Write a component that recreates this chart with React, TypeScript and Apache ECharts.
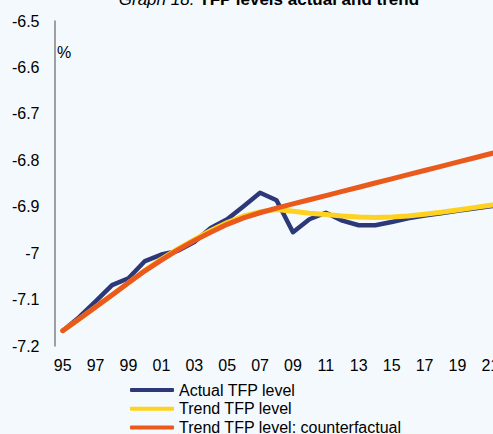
import React, { useEffect, useRef } from "react";
import * as echarts from "echarts";

const years = [
  "1995", "1996", "1997", "1998", "1999", "2000", "2001", "2002", "2003", "2004",
  "2005", "2006", "2007", "2008", "2009", "2010", "2011", "2012", "2013", "2014",
  "2015", "2016", "2017", "2018", "2019", "2020", "2021", "2022",
];

const actualTfp = [
  -7.167, -7.138, -7.104, -7.069, -7.054, -7.017, -7.003, -6.995, -6.976, -6.946,
  -6.927, -6.899, -6.87, -6.886, -6.955, -6.927, -6.913, -6.93, -6.94, -6.94,
  -6.933, -6.925, -6.919, -6.914, -6.909, -6.904, -6.899, -6.894,
];

const trendTfp = [
  -7.167, -7.142, -7.116, -7.09, -7.064, -7.037, -7.013, -6.991, -6.971, -6.951,
  -6.934, -6.92, -6.911, -6.906, -6.91, -6.914, -6.917, -6.92, -6.922, -6.923,
  -6.922, -6.92, -6.916, -6.912, -6.907, -6.902, -6.897, -6.892,
];

const counterfactualTfp = [
  -7.167, -7.142, -7.116, -7.09, -7.064, -7.038, -7.015, -6.993, -6.973, -6.955,
  -6.938, -6.924, -6.913, -6.903, -6.894, -6.885, -6.876, -6.867, -6.858, -6.849,
  -6.84, -6.831, -6.822, -6.813, -6.804, -6.795, -6.786, -6.777,
];

const seriesNames = ["Actual TFP level", "Trend TFP level", "Trend TFP level: counterfactual"];
const titleItalic = "Graph 18: ";
const titleBold = "TFP levels actual and trend";
const unitLabel = "%";

const FONT = "'Liberation Sans', Arial, sans-serif";
const BG = "#F4F9FD";

const legendRowTops = [382, 400.7, 419.4];

export default function App() {
  const ref = useRef<HTMLDivElement>(null);

  useEffect(() => {
    if (!ref.current) return;
    const chart = echarts.init(ref.current, undefined, { renderer: "svg" });
    chart.setOption({
      animation: false,
      backgroundColor: BG,
      textStyle: { fontFamily: FONT },
      grid: {
        left: 54.5,
        top: 21,
        bottom: 88,
        right: -22,
        containLabel: false,
        outerBoundsMode: "none",
      },
      graphic: [
        {
          type: "text",
          x: 269,
          y: 8,
          style: {
            text: `{i|${titleItalic}}{b|${titleBold}}`,
            align: "center",
            verticalAlign: "bottom",
            rich: {
              i: { fontFamily: FONT, fontSize: 17, fontStyle: "italic", fill: "#000" },
              b: { fontFamily: FONT, fontSize: 17, fontWeight: "bold", fill: "#000" },
            },
          },
        },
        {
          type: "text",
          x: 57,
          y: 52,
          style: {
            text: unitLabel,
            fontFamily: FONT,
            fontSize: 16,
            fill: "#000",
            verticalAlign: "middle",
          },
        },
      ],
      legend: seriesNames.map((name, i) => ({
        orient: "vertical",
        left: 130,
        top: legendRowTops[i],
        padding: 0,
        itemGap: 0,
        itemWidth: 44,
        itemHeight: 4,
        icon: "roundRect",
        data: [name],
        textStyle: { fontFamily: FONT, fontSize: 16, lineHeight: 16, color: "#000" },
      })),
      xAxis: {
        type: "category",
        data: years,
        boundaryGap: true,
        axisLine: { show: false },
        axisTick: { show: false },
        axisLabel: {
          interval: 1,
          margin: 11,
          fontFamily: FONT,
          fontSize: 16,
          color: "#000",
          formatter: (v: string) => v.slice(2),
        },
        splitLine: { show: false },
      },
      yAxis: {
        type: "value",
        min: -7.2,
        max: -6.5,
        interval: 0.1,
        axisLine: { show: true, lineStyle: { color: "#808080", width: 1.5 } },
        axisTick: { show: false },
        splitLine: { show: false },
        axisLabel: {
          margin: 15,
          fontFamily: FONT,
          fontSize: 16,
          color: "#000",
          formatter: (v: number) => String(parseFloat(v.toFixed(1))),
        },
      },
      series: [
        {
          name: seriesNames[0],
          type: "line",
          data: actualTfp,
          symbol: "none",
          color: "#2D3878",
          lineStyle: { width: 4.5, color: "#2D3878", cap: "round", join: "round" },
          z: 2,
        },
        {
          name: seriesNames[1],
          type: "line",
          data: trendTfp,
          symbol: "none",
          color: "#FFD21F",
          lineStyle: { width: 5, color: "#FFD21F", cap: "round", join: "round" },
          z: 3,
        },
        {
          name: seriesNames[2],
          type: "line",
          data: counterfactualTfp,
          symbol: "none",
          color: "#E95A1C",
          lineStyle: { width: 5, color: "#E95A1C", cap: "round", join: "round" },
          z: 4,
        },
      ],
    });
    return () => chart.dispose();
  }, []);

  return (
    <div style={{ position: "fixed", left: 0, top: 0, width: 493, height: 434, overflow: "hidden", background: BG }}>
      <div ref={ref} style={{ width: 493, height: 434 }} />
    </div>
  );
}
